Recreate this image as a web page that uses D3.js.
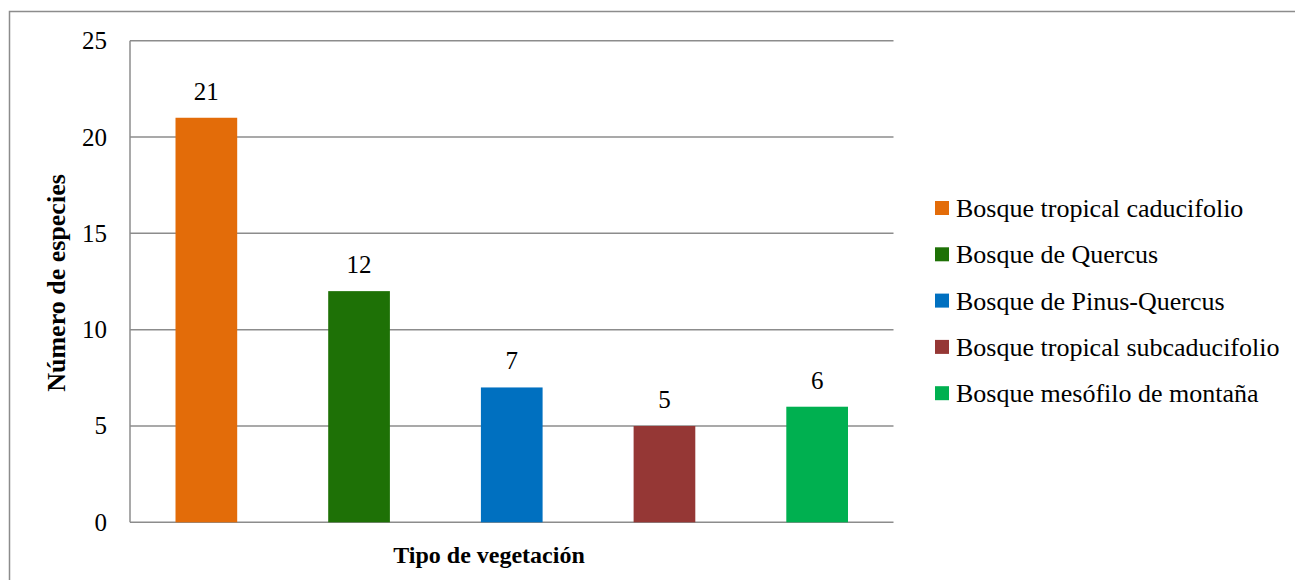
<!DOCTYPE html>
<html>
<head>
<meta charset="utf-8">
<script src="https://cdn.jsdelivr.net/npm/d3@7"></script>
<style>
  html, body { margin: 0; padding: 0; background: #fff; }
  svg { display: block; }
</style>
</head>
<body>
<svg id="chart" width="1295" height="580"></svg>
<script>
// Species count per vegetation type
const categories = [
  "Bosque tropical caducifolio",
  "Bosque de Quercus",
  "Bosque de Pinus-Quercus",
  "Bosque tropical subcaducifolio",
  "Bosque mesófilo de montaña"
];
const values = [21, 12, 7, 5, 6];
const colors = ["#E36C09", "#1E7106", "#0070C0", "#953735", "#00B050"];
const yTicks = [0, 5, 10, 15, 20, 25];

const FONT = '"Liberation Serif"';
const svg = d3.select("#chart");

// outer frame
svg.append("rect")
  .attr("x", 9.5).attr("y", 11.5)
  .attr("width", 1300).attr("height", 600)
  .attr("fill", "none").attr("stroke", "#8c8c8c").attr("stroke-width", 1.5);

const plot = { left: 130, right: 893.5, top: 40.7, bottom: 522.3 };

const x = d3.scaleBand()
  .domain(categories)
  .range([plot.left, plot.right])
  .paddingInner(0.596)
  .paddingOuter(0.298);

const y = d3.scaleLinear()
  .domain([0, 25])
  .range([plot.bottom, plot.top]);

// horizontal gridlines
svg.append("g")
  .selectAll("line")
  .data(yTicks)
  .join("line")
  .attr("x1", plot.left).attr("x2", plot.right)
  .attr("y1", d => y(d)).attr("y2", d => y(d))
  .attr("stroke", "#8c8c8c").attr("stroke-width", 1.5);

// y axis line
svg.append("line")
  .attr("x1", plot.left).attr("x2", plot.left)
  .attr("y1", plot.top).attr("y2", plot.bottom)
  .attr("stroke", "#8c8c8c").attr("stroke-width", 1.5);

// y tick labels
const yAxis = d3.axisLeft(y).tickValues(yTicks).tickSize(0).tickPadding(23);
const yg = svg.append("g").attr("transform", `translate(${plot.left},0)`).call(yAxis);
yg.select(".domain").remove();
yg.attr("font-family", null).attr("font-size", null);
yg.selectAll("text")
  .style("font-family", FONT)
  .style("font-size", "25px")
  .attr("fill", "#000");

// bars
svg.append("g")
  .selectAll("rect")
  .data(values)
  .join("rect")
  .attr("x", (d, i) => x(categories[i]))
  .attr("width", x.bandwidth())
  .attr("y", d => y(d))
  .attr("height", d => y(0) - y(d))
  .attr("fill", (d, i) => colors[i]);

// value labels
svg.append("g")
  .selectAll("text")
  .data(values)
  .join("text")
  .attr("x", (d, i) => x(categories[i]) + x.bandwidth() / 2)
  .attr("y", d => y(d) - 18)
  .attr("text-anchor", "middle")
  .style("font-family", FONT)
  .style("font-size", "25px")
  .text(d => d);

// axis titles
svg.append("text")
  .attr("x", 489).attr("y", 563)
  .attr("text-anchor", "middle")
  .style("font-family", FONT)
  .style("font-size", "24px")
  .style("font-weight", "bold")
  .text("Tipo de vegetación");

svg.append("text")
  .attr("transform", "translate(65,283) rotate(-90)")
  .attr("text-anchor", "middle")
  .style("font-family", FONT)
  .style("font-size", "26px")
  .style("font-weight", "bold")
  .text("Número de especies");

// legend
const legend = svg.append("g")
  .selectAll("g")
  .data(categories)
  .join("g")
  .attr("transform", (d, i) => `translate(935,${208 + i * 46.3})`);

legend.append("rect")
  .attr("x", 0).attr("y", -7)
  .attr("width", 14).attr("height", 14)
  .attr("fill", (d, i) => colors[i]);

legend.append("text")
  .attr("x", 21).attr("y", 9)
  .style("font-family", FONT)
  .style("font-size", "26px")
  .text(d => d);
</script>
</body>
</html>
